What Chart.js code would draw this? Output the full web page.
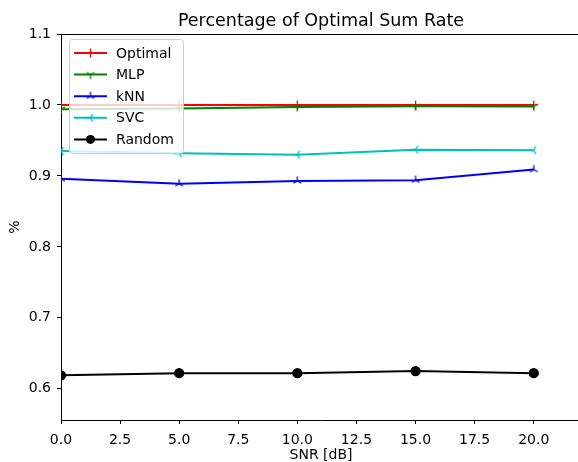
<!DOCTYPE html>
<html>
<head>
<meta charset="utf-8">
<script src="https://cdn.jsdelivr.net/npm/chart.js@4.4.1/dist/chart.umd.min.js"></script>
<style>
  html, body { margin: 0; padding: 0; background: #fff; overflow: hidden; }
  #wrap { width: 578px; height: 462px; overflow: hidden; }
</style>
</head>
<body>
<div id="wrap"><canvas id="chart" width="600" height="462"></canvas></div>
<script>
// data
const snr = [0, 5, 10, 15, 20];
const optimal = [1.0, 1.0, 1.0, 1.0, 1.0];
const mlp = [0.994, 0.995, 0.997, 0.998, 0.998];
const knn = [0.896, 0.889, 0.893, 0.894, 0.909];
const svc = [0.935, 0.932, 0.930, 0.937, 0.936];
const random = [0.619, 0.622, 0.622, 0.625, 0.622];
const xTicks = [0, 2.5, 5, 7.5, 10, 12.5, 15, 17.5, 20];
const yTicks = [0.6, 0.7, 0.8, 0.9, 1.0, 1.1];

const FONT = "'DejaVu Sans', sans-serif";

// matplotlib style "tri" markers ('1', '2', '3')
function triMarker(color, angles) {
    const c = document.createElement('canvas');
    c.width = 12; c.height = 12;
    const ctx = c.getContext('2d');
    ctx.strokeStyle = color;
    ctx.lineWidth = 1.3;
    angles.forEach(a => {
        const r = a * Math.PI / 180;
        ctx.beginPath();
        ctx.moveTo(6, 6);
        ctx.lineTo(6 + Math.cos(r) * 4.5, 6 - Math.sin(r) * 4.5);
        ctx.stroke();
    });
    return c;
}

const series = [
    { label: 'Optimal', data: optimal, color: '#ff0000', style: 'cross', radius: 4.5 },
    { label: 'MLP', data: mlp, color: '#008000', style: triMarker('#008000', [270, 30, 150]) },
    { label: 'kNN', data: knn, color: '#0000ff', style: triMarker('#0000ff', [90, 210, 330]) },
    { label: 'SVC', data: svc, color: '#00bfbf', style: triMarker('#00bfbf', [180, 60, 300]) },
    { label: 'Random', data: random, color: '#000000', style: 'circle', radius: 4.5 }
];

// top and right spines (the right one sits just outside the window)
const frame = {
    id: 'frame',
    afterDraw(chart) {
        const { ctx, chartArea } = chart;
        ctx.save();
        ctx.strokeStyle = '#000';
        ctx.lineWidth = 1;
        ctx.beginPath();
        ctx.moveTo(chartArea.left, chartArea.top + 0.5);
        ctx.lineTo(chartArea.right, chartArea.top + 0.5);
        ctx.lineTo(chartArea.right, chartArea.bottom);
        ctx.stroke();
        ctx.restore();
    }
};

// legend box in the upper left, like matplotlib
const boxLegend = {
    id: 'boxLegend',
    afterDraw(chart) {
        const { ctx, chartArea } = chart;
        const x0 = chartArea.left + 8, y0 = chartArea.top + 5;
        const w = 114, rowH = 21.6;
        const h = rowH * series.length + 6;
        ctx.save();
        ctx.fillStyle = 'rgba(255,255,255,0.8)';
        ctx.strokeStyle = '#cccccc';
        ctx.lineWidth = 1;
        ctx.beginPath();
        ctx.roundRect(x0 + 0.5, y0 + 0.5, w, h, 3);
        ctx.fill();
        ctx.stroke();
        ctx.font = '14px ' + FONT;
        ctx.textBaseline = 'middle';
        series.forEach((s, i) => {
            const cy = y0 + 14 + i * rowH;
            ctx.strokeStyle = s.color;
            ctx.lineWidth = 2;
            ctx.beginPath();
            ctx.moveTo(x0 + 5, cy);
            ctx.lineTo(x0 + 38, cy);
            ctx.stroke();
            const mx = x0 + 21.5;
            if (s.style === 'cross') {
                ctx.lineWidth = 1.3;
                ctx.beginPath();
                ctx.moveTo(mx - 4.5, cy); ctx.lineTo(mx + 4.5, cy);
                ctx.moveTo(mx, cy - 4.5); ctx.lineTo(mx, cy + 4.5);
                ctx.stroke();
            } else if (s.style === 'circle') {
                ctx.fillStyle = s.color;
                ctx.beginPath();
                ctx.arc(mx, cy, 4.5, 0, Math.PI * 2);
                ctx.fill();
            } else {
                ctx.drawImage(s.style, mx - 6, cy - 6);
            }
            ctx.fillStyle = '#000';
            ctx.fillText(s.label, x0 + 47, cy + 1);
        });
        ctx.restore();
    }
};

new Chart(document.getElementById('chart'), {
    type: 'line',
    data: {
        datasets: series.map((s, i) => ({
            label: s.label,
            data: snr.map((x, j) => ({ x: x, y: s.data[j] })),
            borderColor: s.color,
            backgroundColor: s.color,
            borderWidth: 2,
            pointStyle: s.style,
            pointRadius: s.radius || 6,
            pointBorderWidth: 1.3,
            pointBorderColor: s.color,
            pointBackgroundColor: s.color,
            tension: 0,
            fill: false,
            order: series.length - i
        }))
    },
    options: {
        responsive: false,
        animation: false,
        layout: { padding: { left: 0, right: 19, top: 0, bottom: 0 } },
        plugins: {
            legend: { display: false },
            tooltip: { enabled: false },
            title: {
                display: true,
                fullSize: false,
                text: 'Percentage of Optimal Sum Rate',
                color: '#000',
                font: { family: FONT, size: 17.5, weight: 'normal' },
                padding: { top: 11, bottom: 2 }
            }
        },
        scales: {
            x: {
                type: 'linear',
                min: 0,
                max: 22,
                afterBuildTicks: scale => { scale.ticks = xTicks.map(v => ({ value: v })); },
                afterFit: scale => { scale.height = 42; scale.paddingLeft = 0; scale.paddingRight = 0; },
                grid: { display: true, drawOnChartArea: false, color: '#000', tickLength: 4 },
                border: { display: true, color: '#000', width: 1 },
                ticks: {
                    color: '#000',
                    padding: 8,
                    maxRotation: 0,
                    font: { family: FONT, size: 14 },
                    callback: v => v.toFixed(1)
                },
                title: {
                    display: true,
                    text: 'SNR [dB]',
                    color: '#000',
                    padding: { top: 0, bottom: 0 },
                    font: { family: FONT, size: 14, lineHeight: 1.0 }
                }
            },
            y: {
                min: 0.556,
                max: 1.1,
                afterBuildTicks: scale => { scale.ticks = yTicks.map(v => ({ value: v })); },
                afterFit: scale => { scale.width = 61; scale.paddingTop = 0; scale.paddingBottom = 0; },
                grid: { display: true, drawOnChartArea: false, color: '#000', tickLength: 4 },
                border: { display: true, color: '#000', width: 1 },
                ticks: {
                    color: '#000',
                    padding: 6,
                    font: { family: FONT, size: 14 },
                    callback: v => v.toFixed(1)
                },
                title: {
                    display: true,
                    text: '%',
                    color: '#000',
                    padding: { top: 7, bottom: 0 },
                    font: { family: FONT, size: 14 }
                }
            }
        }
    },
    plugins: [frame, boxLegend]
});
</script>
</body>
</html>
